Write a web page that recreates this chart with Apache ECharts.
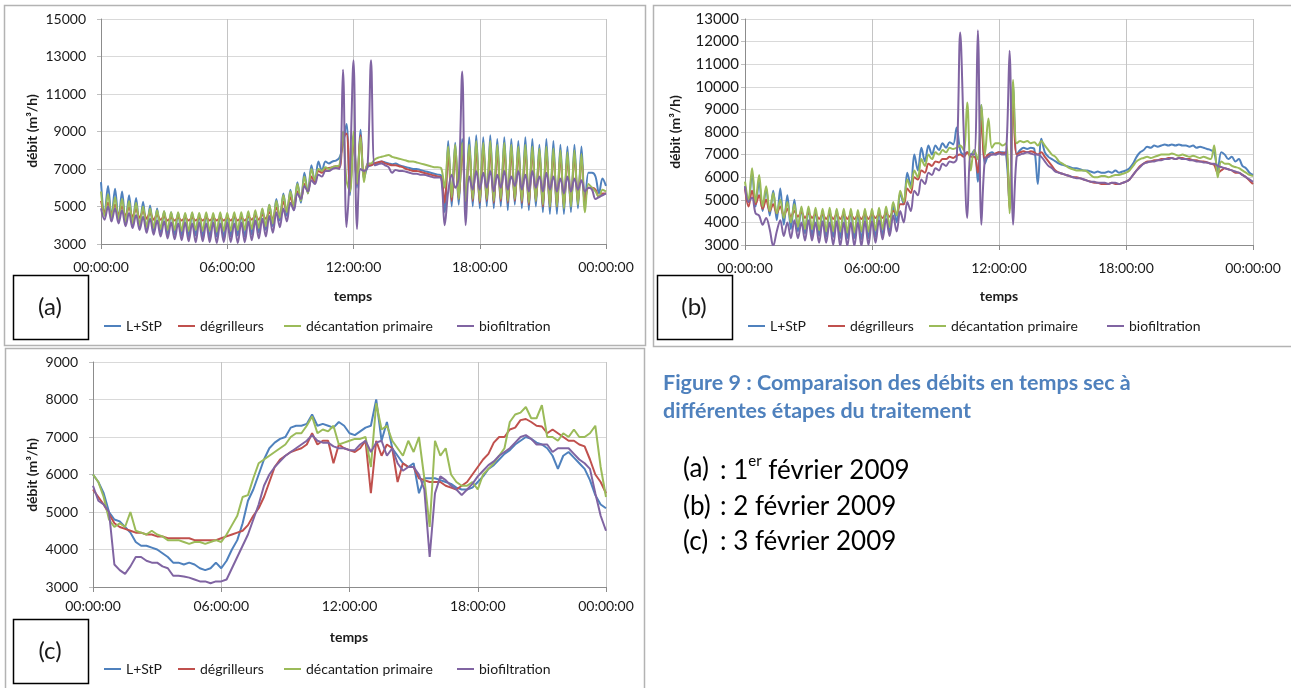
<!DOCTYPE html>
<html>
<head>
<meta charset="utf-8">
<script src="https://cdn.jsdelivr.net/npm/echarts@6/dist/echarts.min.js"></script>
<style>
  html, body { margin: 0; padding: 0; background: #ffffff; }
  #chart { width: 1291px; height: 688px; }
</style>
</head>
<body>
<div id="chart"></div>
<script>
// Flow rates (m3/h) at four treatment stages, three dry-weather days.
const stageNames = ['L+StP', 'dégrilleurs', 'décantation primaire', 'biofiltration'];
const stageColors = ['#4F81BD', '#C0504D', '#9BBB59', '#8064A2'];
const timeLabels = ['00:00:00', '06:00:00', '12:00:00', '18:00:00', '00:00:00'];

// Sampling step in minutes for each day
const stepFeb1 = 10;
const stepFeb2 = 10;
const stepFeb3 = 15;

// ---- 1 February 2009 (10-minute samples, 00:00 -> 24:00) ----
const feb1LStP = [
  6300, 4600, 6100, 4450, 5950, 4300,
  5800, 4150, 5600, 4000, 5450, 3850,
  5250, 3700, 5050, 3600, 4900, 3500,
  4750, 3450, 4700, 3500, 4650, 3450,
  4600, 3400, 4650, 3450, 4550, 3400,
  4600, 3350, 4550, 3400, 4600, 3350,
  4550, 3400, 4600, 3450, 4550, 3400,
  4650, 3500, 4700, 3600, 4850, 3750,
  5100, 3950, 5400, 4250, 5700, 4500,
  5900, 4800, 6300, 5200, 6800, 5700,
  7200, 6300, 7400, 6900, 7400, 7300,
  7400, 7450, 7600, 8300, 9400, 5600,
  8800, 6000, 9100, 6500, 7100, 7200,
  7300, 7350, 7400, 7350, 7300, 7250,
  7300, 7200, 7150, 7100, 7050, 7000,
  7000, 6950, 6900, 6850, 6800, 6750,
  6700, 6650, 4700, 8500, 5000, 8400,
  5100, 8600, 4900, 8700, 5000, 8800,
  4900, 8700, 5000, 8800, 4900, 8600,
  5000, 8700, 4800, 8600, 5100, 8500,
  4900, 8700, 4800, 8600, 5000, 8300,
  4700, 8600, 4600, 8500, 4600, 8300,
  4600, 8200, 4700, 8300, 4900, 8200,
  5000, 6800, 6800, 6600, 5700, 6500,
  6100
];
const feb1Degrilleurs = [
  5300, 4700, 5200, 4600, 5100, 4550,
  5000, 4500, 4950, 4450, 4850, 4400,
  4750, 4350, 4650, 4300, 4550, 4300,
  4450, 4250, 4400, 4250, 4400, 4250,
  4400, 4250, 4400, 4250, 4400, 4250,
  4400, 4250, 4400, 4250, 4400, 4250,
  4400, 4250, 4450, 4250, 4400, 4250,
  4450, 4300, 4500, 4300, 4550, 4350,
  4700, 4300, 4950, 4500, 5250, 4750,
  5500, 5000, 5800, 5400, 6200, 5800,
  6600, 6300, 6900, 6800, 7000, 7050,
  7100, 7150, 7100, 8600, 8900, 5800,
  8600, 6200, 8800, 6600, 7200, 7200,
  7300, 7350, 7400, 7300, 7250, 7200,
  7200, 7150, 7100, 7000, 6950, 6900,
  6900, 6850, 6800, 6750, 6700, 6650,
  6600, 6550, 5200, 7800, 5300, 7900,
  5400, 8000, 5300, 8100, 5300, 8000,
  5200, 8100, 5300, 8000, 5200, 7900,
  5300, 8000, 5200, 7900, 5300, 7900,
  5200, 8000, 5100, 7900, 5300, 7800,
  5000, 7900, 5000, 7800, 5000, 7700,
  5000, 7600, 5100, 7700, 5200, 7600,
  5300, 6000, 6000, 5900, 5500, 5700,
  5700
];
const feb1Decantation = [
  5800, 4500, 5650, 4400, 5500, 4300,
  5400, 4200, 5300, 4100, 5200, 4000,
  5000, 3900, 4900, 3850, 4800, 3800,
  4750, 3750, 4700, 3750, 4700, 3700,
  4650, 3700, 4700, 3750, 4650, 3700,
  4700, 3700, 4650, 3650, 4700, 3700,
  4650, 3700, 4700, 3750, 4700, 3750,
  4750, 3800, 4800, 3850, 4900, 3950,
  5100, 4100, 5300, 4400, 5600, 4700,
  5800, 5000, 6200, 5300, 6600, 5700,
  7000, 6400, 7000, 6900, 7100, 7000,
  7100, 7150, 7200, 9000, 6400, 5800,
  9000, 6200, 8700, 6300, 7300, 7300,
  7500, 7600, 7650, 7700, 7750, 7650,
  7600, 7550, 7500, 7450, 7400, 7400,
  7350, 7300, 7250, 7200, 7150, 7100,
  7100, 7050, 6000, 8200, 5500, 8300,
  5400, 8400, 5300, 8300, 5400, 8500,
  5300, 8400, 5400, 8500, 5300, 8300,
  5400, 8400, 5300, 8300, 5400, 8200,
  5300, 8300, 5200, 8200, 5300, 8100,
  5100, 8200, 5000, 8100, 5000, 8000,
  4900, 7900, 5000, 8000, 5100, 7800,
  4700, 6200, 6000, 5800, 5500, 5900,
  5800
];
const feb1Biofiltration = [
  4900, 4300, 5000, 4200, 4900, 4100,
  4800, 3950, 4650, 3850, 4550, 3750,
  4450, 3600, 4350, 3500, 4250, 3400,
  4200, 3300, 4150, 3250, 4100, 3200,
  4150, 3150, 4100, 3100, 4150, 3150,
  4100, 3100, 4150, 3050, 4100, 3100,
  4150, 3100, 4100, 3050, 4150, 3100,
  4200, 3200, 4250, 3300, 4350, 3400,
  4500, 3600, 4700, 3900, 4900, 4200,
  5200, 4800, 5700, 5400, 6100, 5800,
  6400, 6200, 6700, 6600, 6900, 6900,
  7000, 7050, 7000, 12300, 3900, 7000,
  12800, 3800, 7000, 6900, 7100, 12800,
  7200, 7250, 7300, 7200, 7100, 6800,
  6950, 6900, 6900, 6850, 6800, 6750,
  6750, 6700, 6700, 6650, 6600, 6550,
  6550, 6500, 4000, 5800, 6700, 6000,
  6500, 12200, 4000, 6600, 5900, 6900,
  5900, 6800, 6000, 6900, 5800, 6700,
  6000, 6900, 5900, 6600, 6100, 6900,
  5900, 6700, 5800, 6900, 6000, 6600,
  5800, 6800, 5900, 6600, 5800, 6500,
  5700, 6600, 5800, 6500, 5900, 6400,
  5800, 6000, 5900, 5400, 5500, 5600,
  5700
];

// ---- 2 February 2009 (10-minute samples) ----
const feb2LStP = [
  5600, 4900, 6200, 4700, 5800, 4500,
  5500, 4300, 5400, 4100, 5500, 3900,
  5200, 3700, 5000, 3600, 4600, 3500,
  4600, 3400, 4500, 3400, 4500, 3350,
  4500, 3350, 4550, 3300, 4450, 3300,
  4500, 3300, 4400, 3250, 4450, 3300,
  4450, 3350, 4500, 3400, 4550, 3500,
  4700, 4000, 5300, 4800, 6200, 5600,
  7000, 6300, 7300, 6700, 7400, 7000,
  7400, 7200, 7500, 7300, 7550, 7450,
  8200, 7200, 7000, 7100, 7000, 7200,
  5800, 9200, 6600, 7000, 7100, 7000,
  7100, 7100, 7000, 4800, 10100, 7000,
  7200, 7300, 7250, 7300, 7250, 5700,
  7700, 7100, 6900, 6800, 6700, 6600,
  6550, 6500, 6450, 6400, 6400, 6350,
  6300, 6300, 6250, 6200, 6250, 6200,
  6200, 6250, 6200, 6300, 6200, 6250,
  6300, 6400, 6600, 6900, 7100, 7200,
  7350, 7300, 7400, 7350, 7400, 7450,
  7400, 7450, 7400, 7450, 7400, 7400,
  7350, 7400, 7300, 7350, 7300, 7250,
  7200, 7100, 6300, 7100, 7000, 6800,
  6900, 6700, 6800, 6500, 6400, 6200,
  6100
];
const feb2Degrilleurs = [
  5500, 4700, 5400, 4800, 5200, 4600,
  5000, 4500, 4800, 4400, 4700, 4300,
  4600, 4250, 4500, 4250, 4450, 4200,
  4400, 4200, 4350, 4150, 4350, 4150,
  4350, 4150, 4350, 4150, 4350, 4150,
  4350, 4150, 4300, 4150, 4350, 4150,
  4350, 4200, 4350, 4200, 4400, 4250,
  4500, 4400, 4800, 4800, 5500, 5300,
  6000, 5900, 6300, 6200, 6600, 6500,
  6700, 6650, 6800, 6800, 6900, 6850,
  6950, 7000, 6900, 7100, 6900, 6900,
  6200, 8500, 6800, 7000, 7000, 7050,
  7100, 7050, 7100, 4600, 9500, 7000,
  7100, 7150, 7100, 7150, 7100, 7000,
  7100, 6900, 6700, 6500, 6300, 6200,
  6150, 6100, 6050, 6000, 6000, 5950,
  5900, 5850, 5800, 5750, 5750, 5700,
  5700, 5700, 5750, 5700, 5700, 5750,
  5800, 5900, 6100, 6300, 6500, 6600,
  6700, 6700, 6750, 6750, 6800, 6800,
  6850, 6850, 6800, 6850, 6850, 6800,
  6800, 6750, 6750, 6700, 6700, 6650,
  6600, 6550, 6200, 6300, 6400, 6350,
  6300, 6200, 6200, 6100, 6000, 5850,
  5700
];
const feb2Decantation = [
  5800, 5000, 6400, 4900, 6100, 4700,
  5600, 4500, 5300, 4400, 5000, 4200,
  4900, 4000, 4800, 3800, 4700, 3700,
  4700, 3700, 4650, 3650, 4600, 3600,
  4650, 3600, 4600, 3600, 4600, 3550,
  4600, 3550, 4550, 3600, 4600, 3600,
  4600, 3650, 4650, 3700, 4700, 3800,
  4900, 4300, 5400, 4900, 5900, 5500,
  6300, 6000, 6800, 6500, 7000, 6800,
  7100, 7000, 7200, 7100, 7300, 7250,
  7300, 7400, 7200, 9300, 6300, 7200,
  6800, 9200, 7000, 8600, 7300, 7500,
  7500, 7400, 7500, 4400, 10300, 7500,
  7600, 7550, 7600, 7500, 7550, 7400,
  7600, 7400, 7200, 7000, 6900, 6700,
  6600, 6500, 6400, 6350, 6300, 6300,
  6300, 6250, 6100, 6000, 6000, 6050,
  6050, 6000, 6050, 6100, 6100, 6150,
  6200, 6300, 6500, 6700, 6800, 6850,
  6900, 6850, 6900, 6950, 7000, 7000,
  7000, 7050, 7000, 6950, 7000, 6950,
  6900, 6950, 6900, 6850, 6900, 6850,
  6800, 7400, 6000, 6700, 6600, 6600,
  6500, 6450, 6400, 6300, 6200, 6100,
  6050
];
const feb2Biofiltration = [
  5600, 4900, 5100, 4400, 4300, 3900,
  4200, 3700, 2950, 3600, 4100, 3400,
  4000, 3300, 4100, 3300, 4000, 3200,
  4100, 3200, 4000, 3100, 4050, 3100,
  4000, 3000, 4050, 2950, 4000, 2950,
  4000, 2950, 4000, 2950, 4050, 3000,
  4050, 3100, 4100, 3250, 4150, 3400,
  4300, 3600, 4500, 4000, 4900, 4500,
  5400, 5200, 5900, 5700, 6200, 6100,
  6400, 6300, 6600, 6500, 6700, 6650,
  6800, 12400, 8000, 4200, 7000, 7000,
  12500, 3900, 6800, 6900, 7000, 7000,
  7050, 7000, 7050, 11600, 3900, 6900,
  7000, 7050, 7100, 7050, 7000, 7000,
  6900, 6700, 6500, 6400, 6250, 6200,
  6150, 6100, 6050, 6000, 5950, 5950,
  5900, 5850, 5800, 5800, 5750, 5750,
  5750, 5700, 5750, 5750, 5700, 5750,
  5800, 5900, 6100, 6300, 6450, 6600,
  6650, 6700, 6700, 6750, 6750, 6800,
  6800, 6850, 6800, 6850, 6800, 6800,
  6750, 6750, 6700, 6700, 6650, 6650,
  6600, 6600, 6500, 6450, 6400, 6350,
  6300, 6250, 6200, 6100, 6000, 5900,
  5800
];

// ---- 3 February 2009 (15-minute samples) ----
const feb3LStP = [
  6000, 5800, 5500, 5000,
  4800, 4750, 4600, 4450,
  4200, 4100, 4100, 4050,
  4000, 3900, 3800, 3650,
  3650, 3600, 3650, 3600,
  3500, 3450, 3500, 3650,
  3500, 3700, 4000, 4250,
  4700, 5300, 5600, 6000,
  6400, 6700, 6850, 6950,
  7000, 7250, 7300, 7300,
  7350, 7600, 7300, 7350,
  7300, 7250, 7400, 7300,
  7100, 7050, 7150, 7250,
  7300, 8000, 6900, 7400,
  6700, 6500, 6300, 6200,
  6300, 5500, 5900, 5900,
  5900, 5850, 5800, 5750,
  5650, 5600, 5600, 5650,
  5800, 5950, 6150, 6250,
  6400, 6550, 6650, 6800,
  6900, 7000, 6950, 6850,
  6800, 6700, 6500, 6150,
  6500, 6600, 6450, 6300,
  6150, 5850, 5450, 5200,
  5100
];
const feb3Degrilleurs = [
  5600, 5400, 5200, 4950,
  4700, 4600, 4550, 4500,
  4450, 4450, 4400, 4400,
  4350, 4350, 4300, 4300,
  4300, 4300, 4300, 4250,
  4250, 4250, 4250, 4250,
  4300, 4350, 4400, 4450,
  4500, 4650, 4900, 5100,
  5400, 5800, 6200, 6400,
  6500, 6600, 6650, 6700,
  6800, 7100, 6800, 6900,
  6900, 6300, 6800, 6700,
  6650, 6600, 6700, 6900,
  5500, 6900, 6500, 6800,
  6700, 5800, 6300, 6200,
  6200, 5900, 5850, 5800,
  5800, 5800, 5700, 5650,
  5600, 5700, 5800, 6000,
  6200, 6400, 6550, 6850,
  7000, 7000, 7200, 7250,
  7450, 7480, 7400, 7300,
  7280, 7100, 7200, 7100,
  7000, 6900, 6900, 6800,
  6750, 6400, 6000, 5800,
  5500
];
const feb3Decantation = [
  6000, 5800, 5400, 4800,
  4600, 4700, 4600, 5000,
  4500, 4450, 4400, 4500,
  4400, 4350, 4250, 4250,
  4250, 4200, 4150, 4200,
  4200, 4150, 4200, 4250,
  4200, 4400, 4650, 4900,
  5400, 5450, 5900, 6300,
  6400, 6500, 6600, 6700,
  6800, 7000, 7100, 7100,
  7300, 7550, 7100, 7200,
  7150, 7300, 6800, 6850,
  6900, 6950, 6950, 7000,
  6200, 7900, 7200, 7300,
  6900, 6700, 6500, 6900,
  6600, 7000, 5900, 4600,
  6900, 6500, 6700, 6000,
  5800, 5700, 5700, 5800,
  5600, 6000, 6150, 6300,
  6500, 6700, 7400, 7600,
  7650, 7800, 7500, 7500,
  7850, 7000, 7000, 6900,
  7100, 7000, 7200, 7000,
  7000, 7100, 7300, 6200,
  5400
];
const feb3Biofiltration = [
  5700, 5300, 5200, 5000,
  3600, 3450, 3350, 3550,
  3800, 3800, 3700, 3650,
  3650, 3550, 3500, 3300,
  3300, 3280, 3250, 3200,
  3150, 3150, 3100, 3150,
  3150, 3200, 3500, 3800,
  4100, 4400, 4800, 5200,
  5700, 6000, 6200, 6350,
  6500, 6600, 6700, 6800,
  6900, 7050, 6900, 6850,
  6850, 6750, 6700, 6700,
  6650, 6650, 6800, 6900,
  6600, 6850, 6900, 6500,
  6700, 6300, 6100, 6200,
  6200, 6000, 5600, 3800,
  5500, 5950, 5850, 5700,
  5600, 5450, 5600, 5750,
  5950, 6100, 6250, 6350,
  6500, 6600, 6700, 6850,
  7000, 7050, 6950, 6800,
  6800, 6800, 6600, 6700,
  6700, 6700, 6550, 6400,
  6300, 6150, 5500, 4900,
  4500
];

const days = [
  { step: stepFeb1, values: [feb1LStP, feb1Degrilleurs, feb1Decantation, feb1Biofiltration],
    yMin: 3000, yMax: 15000, yStep: 2000, labelMargin: 15, labelSize: 14, xMargin: 16, smooth: 0.35 },
  { step: stepFeb2, values: [feb2LStP, feb2Degrilleurs, feb2Decantation, feb2Biofiltration],
    yMin: 3000, yMax: 13000, yStep: 1000, labelMargin: 6, labelSize: 15, xMargin: 16, smooth: 0.35 },
  { step: stepFeb3, values: [feb3LStP, feb3Degrilleurs, feb3Decantation, feb3Biofiltration],
    yMin: 3000, yMax: 9000, yStep: 1000, labelMargin: 15, labelSize: 14, xMargin: 12, smooth: false }
];

// Plot areas of the three panels
const plotBoxes = [
  { left: 101, top: 19, width: 505, height: 225 },
  { left: 745, top: 19, width: 508, height: 226 },
  { left: 93, top: 362, width: 513, height: 225 }
];

const FONT = 'Lato, "Open Sans", sans-serif';
const TEXT = '#1a1a1a';
const AXIS = '#8c8c8c';

const grids = plotBoxes.map(b => Object.assign({ containLabel: false }, b));

const xAxes = days.map((d, k) => ({
  type: 'value', gridIndex: k, min: 0, max: 1440, interval: 360,
  axisLine: { show: true, lineStyle: { color: AXIS, width: 1 } },
  axisTick: { show: true, length: 5, lineStyle: { color: AXIS } },
  splitLine: { show: true, lineStyle: { color: '#c4c4c4', width: 1 } },
  axisLabel: {
    margin: d.xMargin, fontSize: 14, fontFamily: FONT, color: TEXT,
    formatter: v => timeLabels[Math.round(v / 360)]
  }
}));

const yAxes = days.map((d, k) => ({
  type: 'value', gridIndex: k, min: d.yMin, max: d.yMax, interval: d.yStep,
  axisLine: { show: true, lineStyle: { color: AXIS, width: 1 } },
  axisTick: { show: true, length: 4, lineStyle: { color: '#bfbfbf' } },
  splitLine: { show: true, lineStyle: { color: '#d9d9d9', width: 1 } },
  axisLabel: {
    margin: d.labelMargin, fontSize: d.labelSize, fontFamily: FONT, color: TEXT,
    formatter: v => String(v)
  }
}));

const series = [];
days.forEach((d, k) => {
  d.values.forEach((arr, s) => {
    series.push({
      type: 'line', name: stageNames[s],
      xAxisIndex: k, yAxisIndex: k,
      data: arr.map((v, i) => [i * d.step, v]),
      symbol: 'none', showSymbol: false, smooth: d.smooth,
      clip: true, animation: false,
      lineStyle: { color: stageColors[s], width: 2 },
      itemStyle: { color: stageColors[s] },
      z: 2 + s
    });
  });
});

// One legend entry per position, laid out like the workbook legends
const legendLefts = [[104, 178, 284, 457], [748, 828, 929, 1107], [104, 178, 284, 457]];
const legendTops = [319, 319, 662];
const legends = [];
legendLefts.forEach((row, k) => {
  row.forEach((x, s) => {
    legends.push({
      left: x, top: legendTops[k], padding: 0, itemGap: 0,
      data: [stageNames[s]], selectedMode: false,
      icon: 'rect', itemWidth: 17, itemHeight: 2,
      textStyle: { fontFamily: FONT, fontSize: 14, color: TEXT }
    });
  });
});

function txt(x, y, text, font, opts) {
  return Object.assign({
    type: 'text', x: x, y: y, silent: true,
    style: Object.assign({ text: text, font: font, fill: TEXT, align: 'center', verticalAlign: 'middle' },
      (opts && opts.style) || {})
  }, (opts && opts.el) || {});
}

const graphics = [
  // panel frames
  { type: 'rect', shape: { x: 4.5, y: 5.5, width: 641, height: 340 }, style: { fill: null, stroke: '#b3b3b3', lineWidth: 1.5 }, silent: true },
  { type: 'rect', shape: { x: 653.5, y: 5.5, width: 650, height: 341 }, style: { fill: null, stroke: '#b3b3b3', lineWidth: 1.5 }, silent: true },
  { type: 'rect', shape: { x: 5.5, y: 348.5, width: 639, height: 350 }, style: { fill: null, stroke: '#b3b3b3', lineWidth: 1.5 }, silent: true },
  // panel tags
  { type: 'rect', shape: { x: 13.5, y: 275.5, width: 75, height: 64 }, style: { fill: '#fff', stroke: '#000', lineWidth: 1.5 }, silent: true },
  { type: 'rect', shape: { x: 657.5, y: 275.5, width: 75, height: 64 }, style: { fill: '#fff', stroke: '#000', lineWidth: 1.5 }, silent: true },
  { type: 'rect', shape: { x: 13.5, y: 619.5, width: 75, height: 64 }, style: { fill: '#fff', stroke: '#000', lineWidth: 1.5 }, silent: true },
  txt(50, 307, '(a)', '24px ' + FONT),
  txt(694, 307, '(b)', '24px ' + FONT),
  txt(50, 651, '(c)', '24px ' + FONT),
  // axis titles
  txt(353, 296, 'temps', 'bold 14px ' + FONT),
  txt(999, 296, 'temps', 'bold 14px ' + FONT),
  txt(349, 637, 'temps', 'bold 14px ' + FONT),
  txt(32, 131, 'débit (m³/h)', 'bold 14px ' + FONT, { el: { rotation: Math.PI / 2 } }),
  txt(675, 132, 'débit (m³/h)', 'bold 14px ' + FONT, { el: { rotation: Math.PI / 2 } }),
  txt(32, 475, 'débit (m³/h)', 'bold 14px ' + FONT, { el: { rotation: Math.PI / 2 } }),
  // caption
  txt(663, 383, 'Figure 9 : Comparaison des débits en temps sec à', 'bold 21.5px ' + FONT,
      { style: { align: 'left', fill: '#4F81BD' } }),
  txt(663, 411, 'différentes étapes du traitement', 'bold 21.5px ' + FONT,
      { style: { align: 'left', fill: '#4F81BD' } }),
  txt(683, 469, '(a)', '26px ' + FONT, { style: { align: 'left', fill: '#000' } }),
  txt(683, 507, '(b)', '26px ' + FONT, { style: { align: 'left', fill: '#000' } }),
  txt(683, 542, '(c)', '26px ' + FONT, { style: { align: 'left', fill: '#000' } }),
  {
    type: 'text', x: 720, y: 469, silent: true,
    style: {
      text: '{n|: 1}{s|er}{n| février 2009}', align: 'left', verticalAlign: 'middle',
      rich: {
        n: { font: '26px ' + FONT, fill: '#000', lineHeight: 30, verticalAlign: 'bottom' },
        s: { font: '15px ' + FONT, fill: '#000', lineHeight: 30, verticalAlign: 'top' }
      }
    }
  },
  txt(720, 507, ': 2 février 2009', '26px ' + FONT, { style: { align: 'left', fill: '#000' } }),
  txt(720, 542, ': 3 février 2009', '26px ' + FONT, { style: { align: 'left', fill: '#000' } })
];

const chart = echarts.init(document.getElementById('chart'), null, { renderer: 'canvas' });
chart.setOption({
  animation: false,
  backgroundColor: '#ffffff',
  grid: grids,
  xAxis: xAxes,
  yAxis: yAxes,
  legend: legends,
  series: series,
  graphic: graphics
});
</script>
</body>
</html>
